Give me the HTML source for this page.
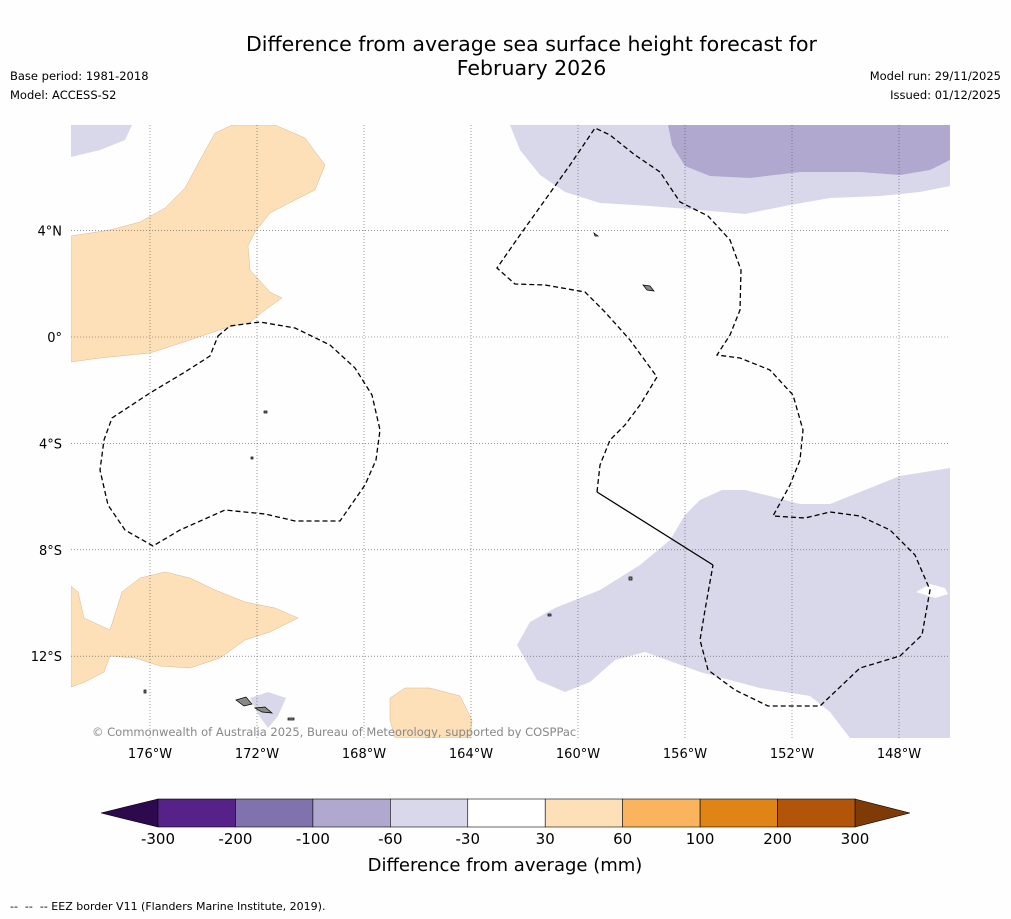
<!DOCTYPE html>
<html><head><meta charset="utf-8"><style>
body{margin:0;background:#fefefe;font-family:"DejaVu Sans","Liberation Sans",sans-serif}
#wrap{position:relative;width:1011px;height:919px;overflow:hidden;background:#fefefe}
.t{position:absolute;color:#000}
</style></head><body>
<div id="wrap">
<div class="t" style="left:0;width:1063px;top:32px;text-align:center;font-size:20.5px;line-height:24px">Difference from average sea surface height forecast for<br>February 2026</div>
<div class="t" style="left:10px;top:67px;font-size:11.5px;line-height:19px">Base period: 1981-2018<br>Model: ACCESS-S2</div>
<div class="t" style="right:10px;top:67px;font-size:11.5px;line-height:19px;text-align:right">Model run: 29/11/2025<br>Issued: 01/12/2025</div>
<div class="t" style="left:10px;top:900px;font-size:11px">-- &nbsp;-- &nbsp;-- EEZ border V11 (Flanders Marine Institute, 2019).</div>
<svg id="svg" width="1011" height="919" style="position:absolute;left:0;top:0">
<defs><clipPath id="mc"><rect x="71" y="125" width="879" height="613"/></clipPath></defs>
<g clip-path="url(#mc)">
<g fill="#fde0b8" stroke="#d8b890" stroke-width="0.5">
<path d="M71,236 L110,230 L140,222 L165,208 L185,188 L200,160 L215,133 L232,125 L275,125 L305,138 L325,165 L315,190 L295,200 L270,213 L255,232 L248,246 L250,270 L270,292 L282,298 L265,310 L250,322 L225,328 L190,340 L150,353 L100,358 L71,362 Z"/>
<path d="M71,586 L78,592 L84,618 L110,630 L122,592 L140,578 L165,572 L190,578 L215,590 L245,602 L275,608 L298,618 L270,632 L245,640 L220,658 L190,668 L160,666 L135,658 L110,656 L104,672 L85,682 L71,687 Z"/>
<path d="M390,698 L405,688 L430,688 L460,696 L472,720 L470,738 L395,738 L390,720 Z"/>
</g>
<g>
<path fill="#d8d8ea" d="M71,125 L132,125 L125,140 L100,150 L71,157 Z"/>
<path fill="#d8d8ea" d="M510,125 L950,125 L950,186 L920,192 L880,196 L830,198 L790,205 L745,214 L700,210 L650,206 L600,203 L565,192 L540,175 L520,150 Z"/>
<path fill="#b0a8cf" d="M668,125 L950,125 L950,160 L930,170 L900,175 L860,172 L800,172 L750,178 L710,176 L685,166 L672,145 Z"/>
<path fill="#d8d8ea" d="M950,468 L900,476 L870,488 L830,504 L800,504 L770,496 L745,490 L722,490 L700,500 L685,515 L670,540 L640,565 L600,590 L555,608 L530,622 L517,645 L537,680 L565,692 L590,682 L615,660 L645,652 L700,672 L760,688 L810,696 L830,712 L850,738 L950,738 Z"/>
<path fill="#fefefe" d="M916,592 L930,584 L945,588 L948,594 L935,598 Z"/>
<path fill="#d8d8ea" d="M250,698 L268,692 L286,698 L278,716 L268,728 L258,714 Z"/>
</g>
<g id="grid" stroke="#555" stroke-width="0.6" stroke-dasharray="1,2"></g>
<g fill="none" stroke="#000" stroke-width="1.3" stroke-dasharray="5,3">
<path d="M218,336 L230,326 L260,322 L295,328 L330,345 L355,368 L372,395 L380,430 L376,460 L365,485 L340,521 L295,521 L265,514 L225,510 L180,530 L153,546 L125,530 L108,505 L100,470 L104,440 L112,418 L150,393 L185,372 L210,356 Z"/>
<path d="M597,492 L600,465 L610,440 L625,425 L640,405 L657,377 L630,340 L605,312 L585,292 L545,285 L515,284 L497,268 L520,235 L545,200 L570,165 L595,128 L610,135 L635,155 L660,172 L680,202 L708,216 L730,240 L741,270 L740,310 L730,335 L717,355 L740,358 L770,370 L793,395 L803,430 L800,460 L790,485 L773,516 L805,518 L830,512 L860,516 L890,530 L915,555 L930,590 L922,635 L900,656 L860,668 L820,706 L768,706 L735,690 L708,670 L700,640 L705,610 L713,565"/>
</g>
<path d="M597,492 L713,565" stroke="#000" stroke-width="1.3" fill="none"/>
<g fill="#888" stroke="#000" stroke-width="0.7">
<path d="M236,700 L246,697 L252,704 L244,706 Z"/><path d="M255,708 L265,707 L272,713 L262,712 Z"/>
<path d="M643,285 L650,286 L654,291 L647,290 Z"/><path d="M594,233 L598,236 L595,236 Z"/>
<rect x="264" y="411" width="3" height="2"/><rect x="251" y="457" width="2" height="2"/><rect x="144" y="690" width="2" height="3"/>
<rect x="288" y="718" width="6" height="2"/><rect x="629" y="577" width="3" height="3"/><rect x="548" y="614" width="3" height="2"/>
</g>
<text x="92" y="736" font-size="11.5" fill="#888">© Commonwealth of Australia 2025, Bureau of Meteorology, supported by COSPPac</text>
</g>
<g id="axes" font-size="13"></g>
<g id="cbar"></g>
<text x="505" y="871" text-anchor="middle" font-size="18">Difference from average (mm)</text>
</svg>
</div>
<script>
const lonTicks=[-176,-172,-168,-164,-160,-156,-152,-148];
const latTicks=[4,0,-4,-8,-12];
const cbTicks=["-300","-200","-100","-60","-30","30","60","100","200","300"];
const cbColors=["#56228a","#8072ad","#b0a8cf","#d8d8ea","#ffffff","#fde0b8","#fbb45e","#e08416","#b25508"];
const lowColor="#2d0a4e", highColor="#7e3b06";
const NS="http://www.w3.org/2000/svg";
function lonX(l){return 150+(l+176)*26.75;}
function latY(v){return 337-v*26.6;}
function mk(t,a,p){const e=document.createElementNS(NS,t);for(const k in a)e.setAttribute(k,a[k]);p.appendChild(e);return e;}
const grid=document.getElementById('grid'),axes=document.getElementById('axes'),cb=document.getElementById('cbar');
lonTicks.forEach(l=>{const x=lonX(l);
const g=mk('line',{x1:x,x2:x,y1:125,y2:738},grid);


const t=mk('text',{x:x,y:758,'text-anchor':'middle'},axes);t.textContent=Math.abs(l)+'°W';

});
latTicks.forEach(v=>{const y=latY(v);
const g=mk('line',{x1:71,x2:950,y1:y,y2:y},grid);


const t=mk('text',{x:62,y:y+5,'text-anchor':'end'},axes);t.textContent=v==0?'0°':Math.abs(v)+'°'+(v>0?'N':'S');

});
const x0=158,x1=855,y0=799,y1=827,w=(x1-x0)/cbColors.length;
const lt=mk('polygon',{points:`${x0},${y0} 101,${(y0+y1)/2} ${x0},${y1}`,fill:lowColor,stroke:'#000','stroke-width':0.6},cb);


const ht=mk('polygon',{points:`${x1},${y0} 910,${(y0+y1)/2} ${x1},${y1}`,fill:highColor,stroke:'#000','stroke-width':0.6},cb);


cbColors.forEach((c,i)=>{const r=mk('rect',{x:x0+i*w,y:y0,width:w,height:y1-y0,fill:c,stroke:'#000','stroke-width':0.6},cb);

});
cbTicks.forEach((s,i)=>{const t=mk('text',{x:x0+i*w,y:844,'text-anchor':'middle','font-size':15},cb);t.textContent=s;

});
</script>
</body></html>
